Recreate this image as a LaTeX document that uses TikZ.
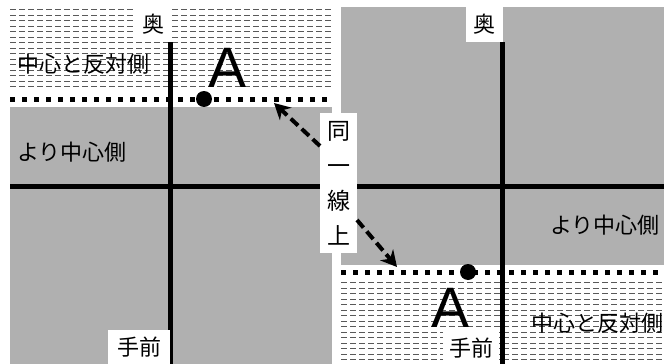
\documentclass[tikz,border=0pt]{standalone}
\usepackage{fontspec}
\setmainfont{Liberation Sans}
\newfontfamily\jp{Noto Sans CJK JP}
\usetikzlibrary{arrows.meta}
\tikzset{
  greyfill/.style={fill=black!31, draw=none},
  dashrule/.style={draw=black!65, line width=0.6pt, dash pattern=on 6pt off 3pt},
  thickline/.style={line width=5pt},
  dotline/.style={line width=5pt, dash pattern=on 5pt off 7pt},
  jplabel/.style={font=\jp\fontsize{22}{22}\selectfont, inner sep=0pt},
  whitebox/.style={fill=white, draw=none, inner sep=0pt, font=\jp\fontsize{22}{22}\selectfont},
  bigA/.style={font=\fontsize{57}{57}\selectfont, inner sep=0pt, anchor=base},
  pointdot/.style={circle, fill=black, minimum size=16pt, inner sep=0pt},
  arr/.style={line width=4pt, dash pattern=on 10pt off 5pt, -{Stealth[length=16pt,width=17pt]}}
}
\begin{document}
\begin{tikzpicture}[x=1pt,y=-1pt]
\useasboundingbox (0,0) rectangle (670,364);
% grey regions
\fill[greyfill] (10,107) rectangle (332,364);
\fill[greyfill] (341,7) rectangle (664,265);
% dashed-line regions
\begin{scope}
\clip (10,7) rectangle (332,91);
\foreach \y in {9.5,15,...,91} { \draw[dashrule] (10,\y) -- (332,\y); }
\end{scope}
\begin{scope}
\clip (341,280) rectangle (664,364);
\foreach \y in {282.5,288,...,364} { \draw[dashrule] (341,\y) -- (664,\y); }
\end{scope}
% dotted boundary lines
\draw[dotline] (10,99) -- (332,99);
\draw[dotline] (341,272) -- (664,272);
% axes
\draw[thickline] (10,186) -- (332,186);
\draw[thickline] (341,186) -- (664,186);
\draw[thickline] (170.5,42) -- (170.5,364);
\draw[thickline] (502,42) -- (502,364);
% white label boxes
\node[whitebox, minimum width=37pt, minimum height=35pt] (backL) at (153.5,24.5) {奥};
\node[whitebox, minimum width=37pt, minimum height=35pt] (backR) at (484,24.5) {奥};
\node[whitebox, minimum width=62pt, minimum height=34pt] (frontL) at (139,347) {手前};
\node[whitebox, minimum width=56pt, minimum height=32pt] (frontR) at (471,348) {手前};
\node[whitebox, minimum width=37pt, minimum height=140pt, align=center, font=\jp\fontsize{23}{35}\selectfont] (same) at (338.5,183) {同\\一\\線\\上};
% region labels
\node[jplabel, anchor=west] (farL) at (17,64) {中心と反対側};
\node[jplabel, anchor=west] (nearL) at (17,152) {より中心側};
\node[jplabel, anchor=west] (nearR) at (550,225) {より中心側};
\node[jplabel, anchor=west] (farR) at (531,323) {中心と反対側};
% points A
\node[pointdot] (dotL) at (204,99) {};
\node[pointdot] (dotR) at (468,272) {};
\node[bigA] (AL) at (228,87) {A};
\node[bigA] (AR) at (451,327) {A};
% arrows
\coordinate (tailU) at (320,146);
\coordinate (headU) at (274,103);
\coordinate (tailD) at (357,220);
\coordinate (headD) at (397,267);
\draw[arr] (tailU) -- (headU);
\draw[arr] (tailD) -- (headD);
\end{tikzpicture}
\end{document}
